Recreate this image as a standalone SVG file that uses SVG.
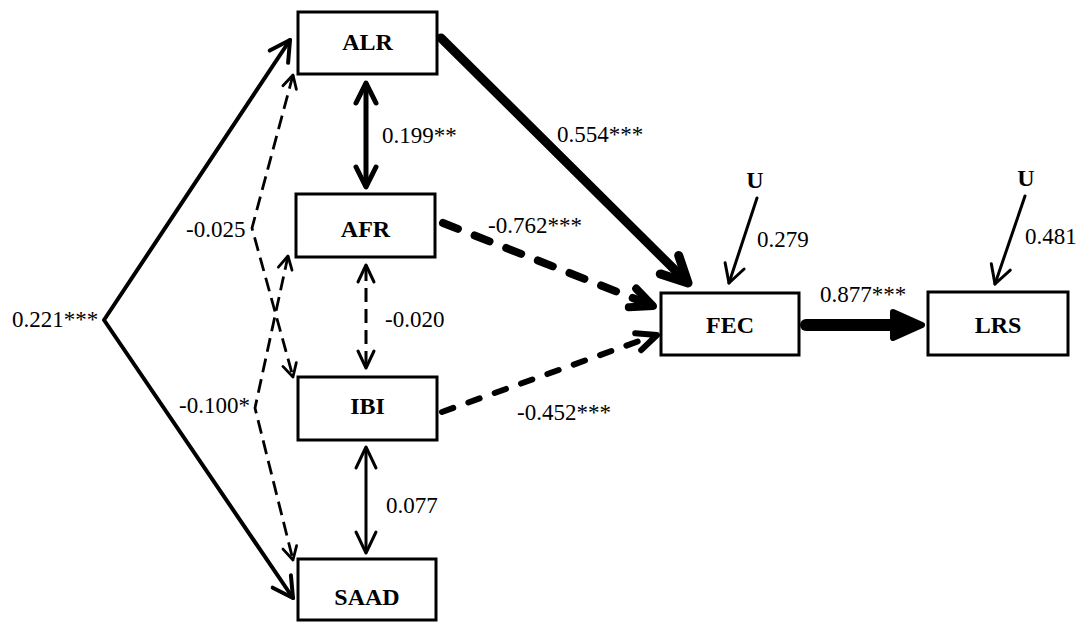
<svg xmlns="http://www.w3.org/2000/svg" width="1077" height="622" viewBox="0 0 1077 622">
  <style>
    .box { fill: #fff; stroke: #000; stroke-width: 3; }
    .name { font-family: "Liberation Serif", "Times New Roman", serif; font-weight: bold; font-size: 24px; text-anchor: middle; fill: #000; }
    .coef { font-family: "Liberation Serif", "Times New Roman", serif; font-size: 23px; fill: #000; }
    .ln { fill: none; stroke: #000; stroke-linecap: round; stroke-linejoin: round; }
    .dash { stroke-dasharray: 14 7; stroke-linecap: butt; }
  </style>
  <rect width="1077" height="622" fill="#fff"/>

  <g id="connectors">
    <!-- 0.221*** : ALR and SAAD -->
    <path class="ln" stroke-width="4" d="M290,40 L104,320 L293,598"/>
    <path class="ln" stroke-width="4" d="M269.7,50.6 L290,40 L288.1,62.8"/>
    <path class="ln" stroke-width="4" d="M272.7,587.7 L293,598 L290.9,575.3"/>

    <!-- -0.025 : ALR and IBI -->
    <path class="ln dash" stroke-width="2.8" d="M293,75 L252,228 L293,377"/>
    <path class="ln" stroke-width="2.8" d="M282.9,85.8 L293,75 L296.4,89.4"/>
    <path class="ln" stroke-width="2.8" d="M282.9,366.4 L293,377 L296.3,362.6"/>

    <!-- -0.100* : AFR and SAAD -->
    <path class="ln dash" stroke-width="2.8" d="M288,256 L255,408 L293,560"/>
    <path class="ln" stroke-width="2.8" d="M278.4,267.2 L288,256 L292,270.2"/>
    <path class="ln" stroke-width="2.8" d="M283,549.1 L293,560 L296.6,545.7"/>

    <!-- ALR <-> AFR -->
    <path class="ln" stroke-width="5" d="M366,84 L366,186"/>
    <path class="ln" stroke-width="5" d="M356,103 L366,83 L376,103"/>
    <path class="ln" stroke-width="5" d="M356,167 L366,187 L376,167"/>

    <!-- AFR <-> IBI (dashed) -->
    <path class="ln dash" stroke-width="3" d="M366,267 L366,366"/>
    <path class="ln" stroke-width="3" d="M358,282 L366,265 L374,282"/>
    <path class="ln" stroke-width="3" d="M358,351 L366,368 L374,351"/>

    <!-- IBI <-> SAAD -->
    <path class="ln" stroke-width="3" d="M366,449 L366,551"/>
    <path class="ln" stroke-width="3" d="M356,468 L366,447 L376,468"/>
    <path class="ln" stroke-width="3" d="M356,532 L366,553 L376,532"/>

    <!-- ALR -> FEC -->
    <path class="ln" stroke-width="9" d="M441,38 L686,281"/>
    <path class="ln" stroke-width="9" d="M660.3,273.9 L688,283 L678.7,255.5"/>

    <!-- AFR -> FEC (dashed) -->
    <path class="ln" stroke-width="8" stroke-dasharray="16 18" d="M443,223 L648,304"/>
    <path class="ln" stroke-width="8" d="M628.8,307.2 L653,306 L636.2,288.6"/>

    <!-- IBI -> FEC (dashed) -->
    <path class="ln" stroke-width="6" stroke-dasharray="12 16" d="M442,412 L653,336"/>
    <path class="ln" stroke-width="6" d="M641.2,350.2 L657,335 L635.2,333.2"/>

    <!-- FEC -> LRS -->
    <path class="ln" stroke-width="12" d="M806,325 L895,325"/>
    <polygon points="893,312 922,325 893,338" fill="#000" stroke="#000" stroke-width="6" stroke-linejoin="round"/>

    <!-- disturbance terms -->
    <path class="ln" stroke-width="3" d="M757,198 L729,283"/>
    <path class="ln" stroke-width="3" d="M744.1,269 L729,283 L725.1,262.8"/>
    <path class="ln" stroke-width="3" d="M1025,196 L995,284"/>
    <path class="ln" stroke-width="3" d="M1010.3,270.2 L995,284 L991.3,263.8"/>
  </g>

  <g id="labels">
    <text class="coef" x="12" y="327">0.221***</text>
    <text class="coef" x="186" y="237">-0.025</text>
    <text class="coef" x="179" y="413">-0.100*</text>
    <text class="coef" x="382" y="143">0.199**</text>
    <text class="coef" x="385" y="327">-0.020</text>
    <text class="coef" x="386" y="513">0.077</text>
    <text class="coef" x="557" y="142">0.554***</text>
    <text class="coef" x="488" y="233">-0.762***</text>
    <text class="coef" x="517" y="420">-0.452***</text>
    <text class="coef" x="820" y="302">0.877***</text>
    <text class="coef" x="757" y="247">0.279</text>
    <text class="coef" x="1025" y="244">0.481</text>
  </g>

  <g id="ALR"><rect class="box" x="298" y="12" width="139" height="62"/><text class="name" x="367.5" y="50">ALR</text></g>
  <g id="AFR"><rect class="box" x="296" y="194" width="139" height="63"/><text class="name" x="365.5" y="237">AFR</text></g>
  <g id="IBI"><rect class="box" x="298" y="377" width="139" height="63"/><text class="name" x="367.5" y="414">IBI</text></g>
  <g id="SAAD"><rect class="box" x="298" y="559" width="138" height="61"/><text class="name" x="367" y="605">SAAD</text></g>
  <g id="FEC"><rect class="box" x="661" y="293" width="138" height="62"/><text class="name" x="730" y="333">FEC</text></g>
  <g id="LRS"><rect class="box" x="928" y="292" width="140" height="63"/><text class="name" x="998" y="333">LRS</text></g>
  <g id="U1"><text class="name" x="755" y="188">U</text></g>
  <g id="U2"><text class="name" x="1026" y="186">U</text></g>
</svg>
